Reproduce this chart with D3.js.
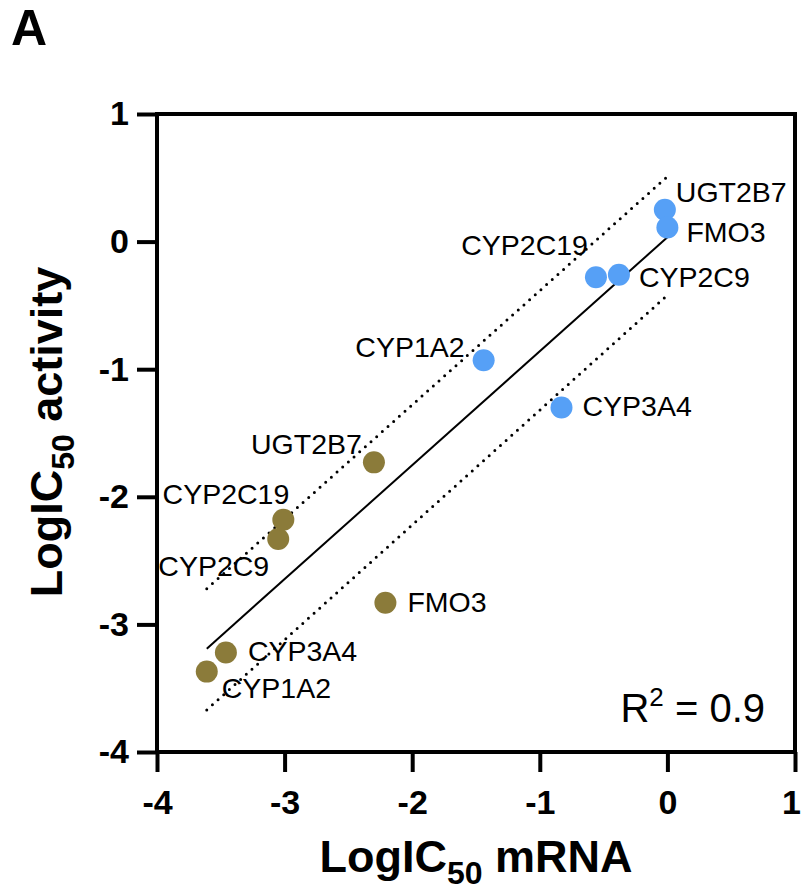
<!DOCTYPE html>
<html>
<head>
<meta charset="utf-8">
<script src="https://cdn.jsdelivr.net/npm/d3@7"></script>
<style>
  body { margin: 0; background: #fff; }
  svg { font-family: Arial, "Liberation Sans", sans-serif; }
</style>
</head>
<body>
<script>
// data
const enzymes = ["UGT2B7", "FMO3", "CYP2C9", "CYP2C19", "CYP1A2", "CYP3A4"];
const blueX = [-0.02, 0.00, -0.38, -0.56, -1.44, -0.83];
const blueY = [0.25, 0.11, -0.26, -0.28, -0.93, -1.30];
const oliveX = [-2.30, -2.21, -3.05, -3.01, -3.61, -3.46];
const oliveY = [-1.73, -2.83, -2.33, -2.18, -3.37, -3.22];
const xTicks = [-4, -3, -2, -1, 0, 1];
const yTicks = [-4, -3, -2, -1, 0, 1];
const fitX = [-3.61, 0.0];
const fitY = [-3.19, 0.034];
const upperY = [-2.72, 0.51];
const lowerY = [-3.67, -0.42];
const r2 = 0.9;

// label layout (pixel offsets from the dot, anchor)
const blueLab = {
  UGT2B7: [11, -8, "start"], FMO3: [19, 14, "start"], CYP2C9: [20, 12, "start"],
  CYP2C19: [-8, -22, "end"], CYP1A2: [-19, -3, "end"], CYP3A4: [21, 9, "start"]
};
const oliveLab = {
  UGT2B7: [-12, -8, "end"], FMO3: [22, 9, "start"], CYP2C9: [-9, 37, "end"],
  CYP2C19: [6, -16, "end"], CYP1A2: [15, 26, "start"], CYP3A4: [22, 9, "start"]
};

var W = 803, H = 894;
var margin = {top: 114, left: 157, right: 8, bottom: 142};

var svg = d3.select("body").append("svg")
  .attr("width", W).attr("height", H);

var x = d3.scaleLinear().domain([-4, 1]).range([margin.left, W - margin.right]);
var y = d3.scaleLinear().domain([-4, 1]).range([H - margin.bottom, margin.top]);

// axes
var xAxis = d3.axisBottom(x).tickValues(xTicks).tickSize(20).tickPadding(18)
  .tickFormat(d3.format("d"));
var yAxis = d3.axisLeft(y).tickValues(yTicks).tickSize(20).tickPadding(8)
  .tickFormat(d3.format("d"));

var gx = svg.append("g")
  .attr("transform", "translate(0," + y(-4) + ")")
  .call(xAxis);
var gy = svg.append("g")
  .attr("transform", "translate(" + x(-4) + ",0)")
  .call(yAxis);

[gx, gy].forEach(function(g) {
  g.select(".domain").remove();
  g.selectAll(".tick line").attr("stroke", "#000").attr("stroke-width", 4);
  g.selectAll(".tick text")
    .attr("fill", "#000")
    .style("font-size", "34px")
    .style("font-weight", "bold")
    .text(function(d) { return d < 0 ? "-" + Math.abs(d) : d; });
});
// keep the last x label inside the page
gx.selectAll(".tick text").filter(function(d) { return d === 1; }).attr("dx", -4);

// frame
svg.append("rect")
  .attr("x", x(-4)).attr("y", y(1))
  .attr("width", x(1) - x(-4)).attr("height", y(-4) - y(1))
  .attr("fill", "none").attr("stroke", "#000").attr("stroke-width", 4);

// fit and bands
var line = d3.line().x(function(d) { return x(d[0]); }).y(function(d) { return y(d[1]); });

svg.append("path")
  .attr("d", line(d3.zip(fitX, fitY)))
  .attr("stroke", "#000").attr("stroke-width", 2).attr("fill", "none");

[upperY, lowerY].forEach(function(b) {
  svg.append("path")
    .attr("d", line(d3.zip(fitX, b)))
    .attr("stroke", "#000").attr("stroke-width", 3)
    .attr("stroke-linecap", "round")
    .attr("stroke-dasharray", "0 7.6")
    .attr("fill", "none");
});

// points + labels
function drawSet(xs, ys, color, lab) {
  var pts = enzymes.map(function(n, i) { return {name: n, x: xs[i], y: ys[i]}; });
  svg.append("g").selectAll("circle").data(pts).enter().append("circle")
    .attr("cx", function(d) { return x(d.x); })
    .attr("cy", function(d) { return y(d.y); })
    .attr("r", 11)
    .attr("fill", color);
  svg.append("g").selectAll("text").data(pts).enter().append("text")
    .attr("x", function(d) { return x(d.x) + lab[d.name][0]; })
    .attr("y", function(d) { return y(d.y) + lab[d.name][1]; })
    .attr("text-anchor", function(d) { return lab[d.name][2]; })
    .style("font-size", "28.5px")
    .attr("fill", "#000")
    .text(function(d) { return d.name; });
}
drawSet(oliveX, oliveY, "#8B7B3A", oliveLab);
drawSet(blueX, blueY, "#56A0F6", blueLab);

// R^2
var rt = svg.append("text")
  .attr("x", 765).attr("y", 722)
  .attr("text-anchor", "end")
  .style("font-size", "40px");
rt.append("tspan").text("R");
rt.append("tspan").attr("dy", -16).style("font-size", "26px").text("2");
rt.append("tspan").attr("dy", 16).text(" = " + r2);

// axis titles
var xt = svg.append("text")
  .attr("x", (x(-4) + x(1)) / 2).attr("y", 872)
  .attr("text-anchor", "middle")
  .style("font-size", "45px").style("font-weight", "bold");
xt.append("tspan").text("LogIC");
xt.append("tspan").attr("dy", 12).style("font-size", "32px").text("50");
xt.append("tspan").attr("dy", -12).text(" mRNA");

var yt = svg.append("text")
  .attr("transform", "translate(62," + 432 + ") rotate(-90)")
  .attr("text-anchor", "middle")
  .style("font-size", "45px").style("font-weight", "bold");
yt.append("tspan").text("LogIC");
yt.append("tspan").attr("dy", 12).style("font-size", "32px").text("50");
yt.append("tspan").attr("dy", -12).text(" activity");

// panel letter
svg.append("text")
  .attr("x", 11).attr("y", 45)
  .style("font-size", "50px").style("font-weight", "bold")
  .text("A");
</script>
</body>
</html>
